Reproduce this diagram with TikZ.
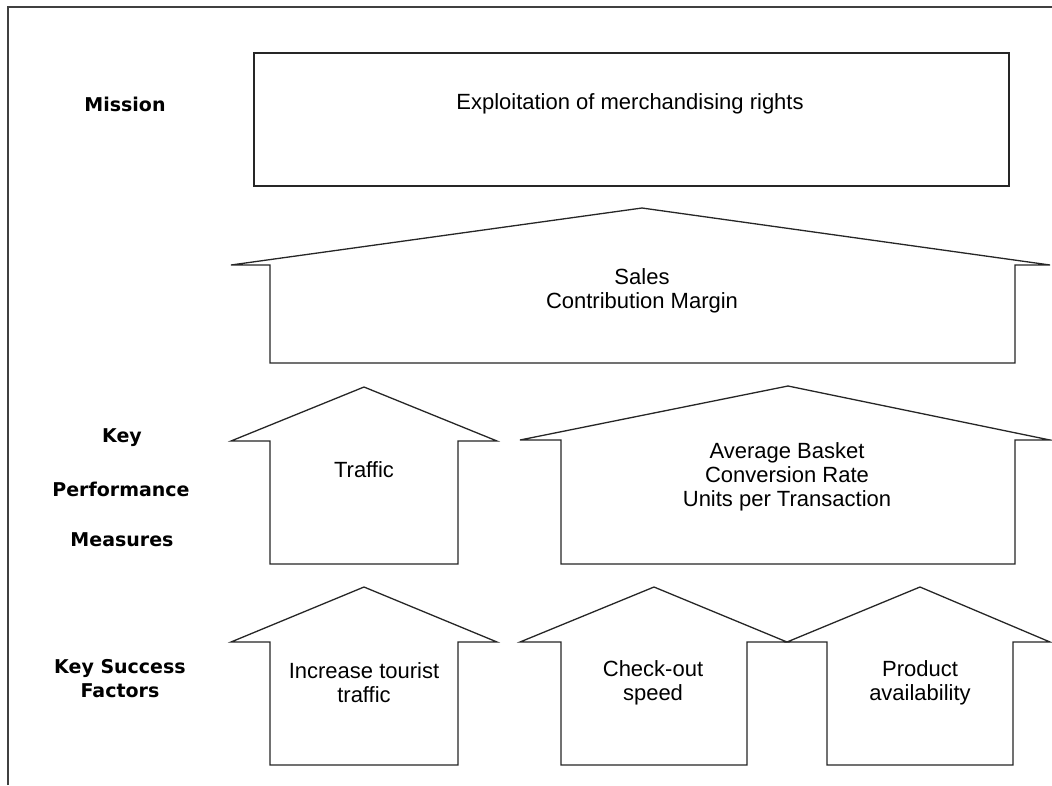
\documentclass[tikz,border=0pt]{standalone}
\usepackage{fontspec}
\setmainfont{Liberation Sans}
\newfontfamily\labelfont{DejaVu Sans}
\usepackage{tikz}
\tikzset{
    outline/.style={draw=black!85, line width=1.3pt, line join=miter, fill=white},
    boxtext/.style={align=center, font=\fontsize{22}{24}\selectfont},
    rowlabel/.style={align=center, font=\labelfont\bfseries\fontsize{19}{24}\selectfont},
}

\begin{document}
\begin{tikzpicture}[x=1pt,y=-1pt]
    \useasboundingbox (0,0) rectangle (1052,785);
    \draw[line width=1.5pt, black!75] (8,785) -- (8,7) -- (1052,7);

    \draw[outline] (254,53) rectangle (1009,186);
    \draw[outline] (270,363) -- (270,265) -- (231,265) -- (642,208) -- (1050,265) -- (1015,265) -- (1015,363) -- cycle;
    \draw[outline] (270,564) -- (270,441) -- (231,441) -- (364,387) -- (497,441) -- (458,441) -- (458,564) -- cycle;
    \draw[outline] (561,564) -- (561,440) -- (520,440) -- (788,386) -- (1050,440) -- (1015,440) -- (1015,564) -- cycle;
    \draw[outline] (270,765) -- (270,642) -- (231,642) -- (364,587) -- (497,642) -- (458,642) -- (458,765) -- cycle;
    \draw[outline] (561,765) -- (561,642) -- (520,642) -- (654,587) -- (787,642) -- (747,642) -- (747,765) -- cycle;
    \draw[outline] (827,765) -- (827,642) -- (787,642) -- (920,587) -- (1050,642) -- (1013,642) -- (1013,765) -- cycle;

    \path (630,104) node[boxtext] (mission) {Exploitation of merchandising rights};
    \path (642,291) node[boxtext] (sales) {Sales\\Contribution Margin};
    \path (364,470) node[boxtext] (traffic) {Traffic};
    \path (787,477) node[boxtext] (basket) {Average Basket\\Conversion Rate\\Units per Transaction};
    \path (364,683) node[boxtext] (tourist) {Increase tourist\\traffic};
    \path (653,683) node[boxtext] (checkout) {Check-out\\speed};
    \path (920,683) node[boxtext] (product) {Product\\availability};

    \path (125,104) node[rowlabel] (lbl-mission) {Mission};
    \path (122,438) node[rowlabel] (lbl-key) {Key};
    \path (121,489) node[rowlabel] (lbl-perf) {Performance};
    \path (122,540) node[rowlabel] (lbl-meas) {Measures};
    \path (120,679) node[rowlabel] (lbl-ksf) {Key Success\\Factors};
\end{tikzpicture}
\end{document}
